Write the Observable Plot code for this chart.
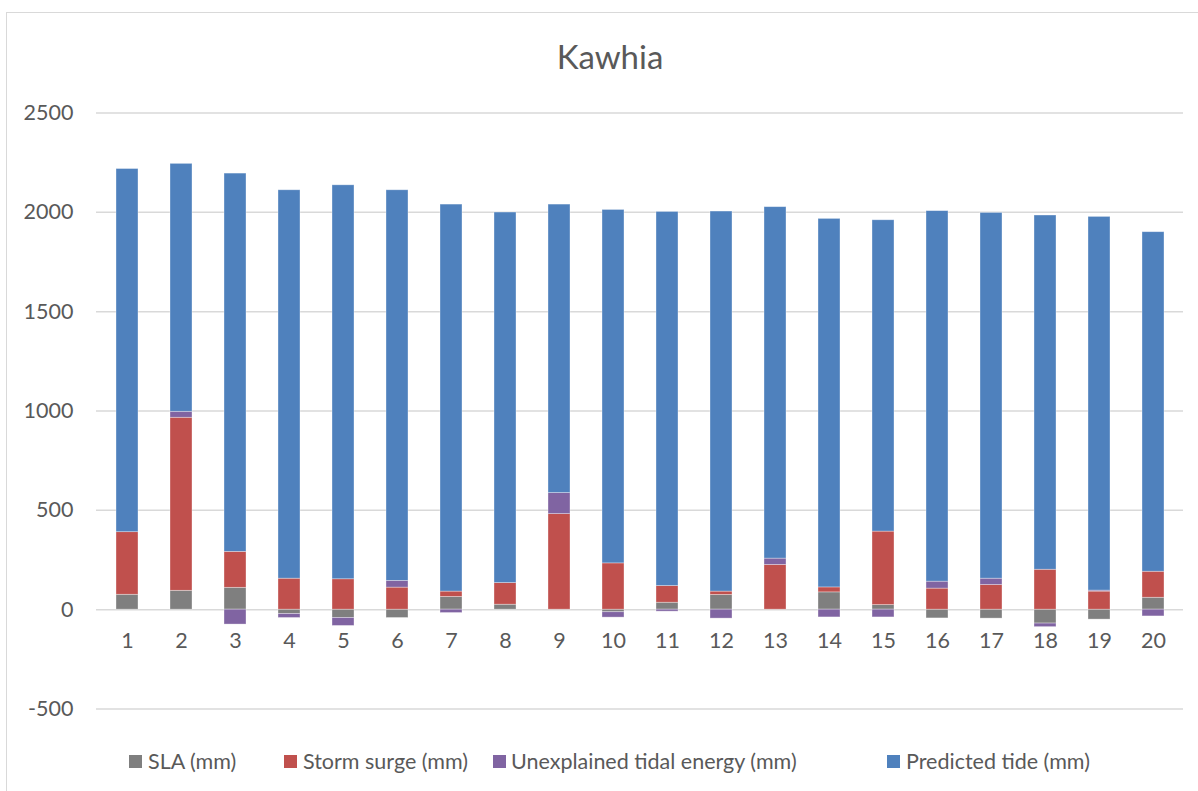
<!DOCTYPE html>
<html>
<head>
<meta charset="utf-8">
<script src="https://cdn.jsdelivr.net/npm/d3@7"></script>
<script src="https://cdn.jsdelivr.net/npm/@observablehq/plot@0.6"></script>
<style>
  html, body { margin: 0; padding: 0; background: #fff; overflow: hidden; }
  #wrap { position: relative; width: 1198px; height: 791px; overflow: hidden; font-family: Lato, "Open Sans", sans-serif; color: #595959; }
  #frame { position: absolute; left: 6px; top: 12px; width: 1300px; height: 900px; border: 1.5px solid #d9d9d9; }
  #title { position: absolute; left: 0; width: 1220px; top: 34px; text-align: center; font-size: 33px; line-height: 44px; }
  #chart { position: absolute; left: 0; top: 0; }
  .leg { position: absolute; top: 749px; font-size: 21.5px; line-height: 24px; white-space: nowrap; }
  .sw { position: absolute; top: 755px; width: 13px; height: 13px; }
</style>
</head>
<body>
<div id="wrap">
  <div id="frame"></div>
  <div id="chart"></div>
  <div id="title">Kawhia</div>
  <div id="legend"></div>
</div>
<script>
const days = [1,2,3,4,5,6,7,8,9,10,11,12,13,14,15,16,17,18,19,20];
const seriesNames = ["SLA (mm)", "Storm surge (mm)", "Unexplained tidal energy (mm)", "Predicted tide (mm)"];
const seriesColors = ["#7f7f7f", "#c0504d", "#8064a2", "#4f81bd"];
const sla = [75, 95, 110, -22, -42, -42, 64, 25, 0, -13, 35, 74, 0, 87, 23, -44, -45, -70, -50, 60];
const stormSurge = [315, 871, 181, 156, 153, 111, 27, 109, 481, 233, 84, 17, 225, 25, 370, 106, 124, 201, 91, 131];
const unexplained = [0, 30, -75, -20, -40, 34, -17, 0, 106, -27, -10, -45, 32, -39, -39, 35, 32, -18, 5, -34];
const predictedTide = [1828, 1248, 1904, 1955, 1983, 1966, 1948, 1865, 1452, 1779, 1883, 1913, 1769, 1855, 1567, 1865, 1841, 1783, 1881, 1709];
const yTicks = [-500, 0, 500, 1000, 1500, 2000, 2500];

const seriesValues = [sla, stormSurge, unexplained, predictedTide];
const data = [];
seriesNames.forEach((name, si) => {
  days.forEach((d, i) => data.push({day: d, series: name, value: seriesValues[si][i]}));
});

const chart = Plot.plot({
  width: 1198,
  height: 791,
  marginTop: 112.5,
  marginBottom: 82.5,
  marginLeft: 96,
  marginRight: 15,
  style: {fontFamily: "Lato, 'Open Sans', sans-serif", fontSize: "21.5px", color: "#595959", background: "transparent"},
  x: {type: "band", domain: days, paddingInner: 0.6, paddingOuter: 0.3, axis: null},
  y: {domain: [-500, 2500], axis: null},
  color: {domain: seriesNames, range: seriesColors},
  marks: [
    Plot.gridY(yTicks, {stroke: "#d9d9d9", strokeOpacity: 1, strokeWidth: 1.5}),
    Plot.axisY(yTicks, {tickSize: 0, tickPadding: 23, fontSize: 21.5, fill: "#595959", label: null, tickFormat: d => String(d)}),
    Plot.barY(data, {x: "day", y: "value", fill: "series", stroke: "#ffffff", strokeOpacity: 0.45, strokeWidth: 0.75}),
    Plot.text(days, {x: d => d, y: () => 0, dy: 31, text: d => String(d), fontSize: 21.5, fill: "#595959"})
  ]
});
document.getElementById("chart").appendChild(chart);

const legendPos = [{sw: 129, tx: 148}, {sw: 284, tx: 303}, {sw: 493, tx: 511}, {sw: 887, tx: 906}];
const leg = document.getElementById("legend");
seriesNames.forEach((name, i) => {
  const s = document.createElement("div");
  s.className = "sw";
  s.style.left = legendPos[i].sw + "px";
  s.style.background = seriesColors[i];
  leg.appendChild(s);
  const t = document.createElement("div");
  t.className = "leg";
  t.style.left = legendPos[i].tx + "px";
  t.textContent = name;
  leg.appendChild(t);
});
</script>
</body>
</html>
